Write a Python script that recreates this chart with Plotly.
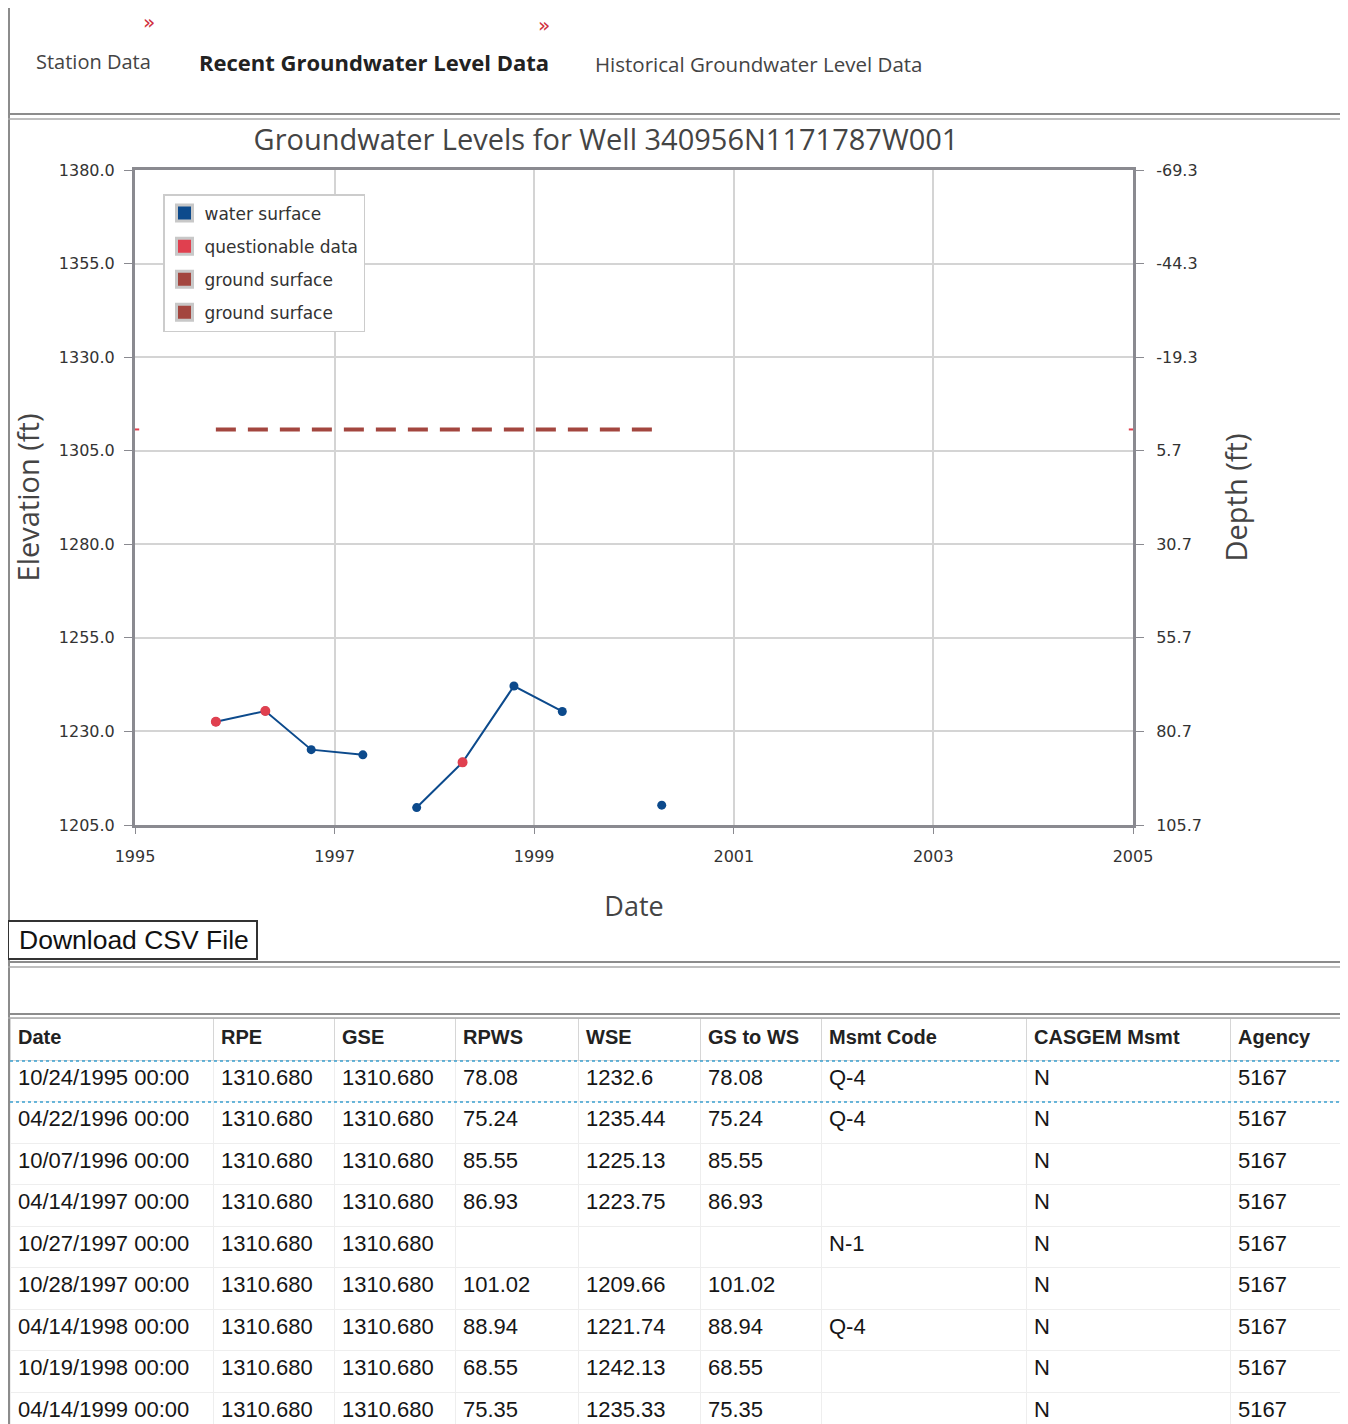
import plotly.graph_objects as go

# ---------------- data ----------------
table_dates = ["10/24/1995 00:00", "04/22/1996 00:00", "10/07/1996 00:00", "04/14/1997 00:00",
               "10/27/1997 00:00", "10/28/1997 00:00", "04/14/1998 00:00", "10/19/1998 00:00",
               "04/14/1999 00:00"]
iso_dates = ["1995-10-24", "1996-04-22", "1996-10-07", "1997-04-14", "1997-10-27",
             "1997-10-28", "1998-04-14", "1998-10-19", "1999-04-14"]
rpe = ["1310.680"] * 9
gse_txt = ["1310.680"] * 9
rpws = ["78.08", "75.24", "85.55", "86.93", "", "101.02", "88.94", "68.55", "75.35"]
wse = [1232.6, 1235.44, 1225.13, 1223.75, None, 1209.66, 1221.74, 1242.13, 1235.33]
wse_txt = ["1232.6", "1235.44", "1225.13", "1223.75", "", "1209.66", "1221.74", "1242.13", "1235.33"]
gs_to_ws = ["78.08", "75.24", "85.55", "86.93", "", "101.02", "88.94", "68.55", "75.35"]
msmt_code = ["Q-4", "Q-4", "", "", "N-1", "", "Q-4", "", ""]
casgem = ["N"] * 9
agency = ["5167"] * 9

# readings beyond the visible table rows
later_dates = ["1999-10-15", "2000-04-12"]
later_wse = [None, 1210.3]

gse_value = 1310.68
x_range = ["1995-01-01", "2005-01-01"]
elev_ticks = [1205.0, 1230.0, 1255.0, 1280.0, 1305.0, 1330.0, 1355.0, 1380.0]

# ---------------- derived ----------------
all_dates = iso_dates + later_dates
all_wse = wse + later_wse
q_dates = [d for d, c, v in zip(iso_dates, msmt_code, wse) if c.startswith("Q") and v is not None]
q_wse = [v for c, v in zip(msmt_code, wse) if c.startswith("Q") and v is not None]
depth = [gse_value - v if v is not None else None for v in all_wse]
gs_dates = [d for d, v in zip(all_dates, all_wse) if v is not None]
gs_vals = [gse_value] * len(gs_dates)
depth_ticks = [gse_value - t for t in elev_ticks]
depth_text = ["%.1f" % t for t in depth_ticks]

W, H = 1348, 1424
OFF = 8  # page body margin
def px(x): return (x - OFF) / W
def py(y): return 1 - (y - OFF) / H

BLUE = "#0c4a8c"
RED = "#e0404f"
BROWN = "#a3463f"
AX = "#8a8a90"

fig = go.Figure()

# ground surface dashed line
fig.add_trace(go.Scatter(x=gs_dates, y=gs_vals, mode="lines", showlegend=False,
                         line=dict(color=BROWN, width=4, dash="20px,12px"), hoverinfo="skip"))
# ground surface (second series) at plot edges
fig.add_trace(go.Scatter(x=x_range, y=[gse_value, gse_value], mode="markers", showlegend=False,
                         marker=dict(color=RED, size=6, symbol="line-ew", line=dict(color=RED, width=2)),
                         hoverinfo="skip"))
# water surface
fig.add_trace(go.Scatter(x=all_dates, y=all_wse, mode="lines+markers", showlegend=False,
                         line=dict(color=BLUE, width=2), marker=dict(color=BLUE, size=9),
                         connectgaps=False))
# questionable data
fig.add_trace(go.Scatter(x=q_dates, y=q_wse, mode="markers", showlegend=False,
                         marker=dict(color=RED, size=10)))
# depth (invisible, drives right axis)
fig.add_trace(go.Scatter(x=all_dates, y=depth, yaxis="y2", mode="markers", showlegend=False,
                         marker=dict(color="rgba(0,0,0,0)", size=1), hoverinfo="skip"))

# legend entries
for i, (name, col) in enumerate([("water surface", BLUE), ("questionable data", RED),
                                 ("ground surface", BROWN), ("ground surface", BROWN)]):
    fig.add_trace(go.Scatter(x=[None], y=[None], mode="markers", name=name, legendgroup="g%d" % i,
                             marker=dict(symbol="square", size=16, color=col,
                                         line=dict(color="#c8c8c8", width=3))))

# table
fig.add_trace(go.Table(
    domain=dict(x=[px(10), px(1342)], y=[0, py(1018)]),
    columnwidth=[203, 121, 121, 123, 122, 121, 205, 204, 112],
    header=dict(values=["<b>Date</b>", "<b>RPE</b>", "<b>GSE</b>", "<b>RPWS</b>", "<b>WSE</b>",
                        "<b>GS to WS</b>", "<b>Msmt Code</b>", "<b>CASGEM Msmt</b>", "<b>Agency</b>"],
                fill_color="white", line_color="#d6d6d6", align="left", height=42,
                font=dict(family="Liberation Sans, Arial", size=20, color="#222")),
    cells=dict(values=[table_dates, rpe, gse_txt, rpws, wse_txt, gs_to_ws, msmt_code, casgem, agency],
               fill_color="white", line_color="#eeeeee", align="left", height=41.5,
               font=dict(family="Liberation Sans, Arial", size=22, color="#161616")),
))

fig.update_layout(
    width=W, height=H, margin=dict(l=0, r=0, t=0, b=0, autoexpand=False),
    paper_bgcolor="white", plot_bgcolor="white",
    font=dict(family="DejaVu Sans", color="#333"),
    title=dict(text="Groundwater Levels for Well 340956N1171787W001", x=px(606), y=py(140),
               xanchor="center", yanchor="middle",
               font=dict(family="Open Sans", size=29, color="#444")),
    xaxis=dict(domain=[px(135), px(1133)], type="date", range=x_range, dtick="M24",
               tick0="1995-01-01", tickformat="%Y", showgrid=True, gridcolor="#d4d4d4", gridwidth=1.5,
               showline=True, linecolor=AX, linewidth=3, mirror=True, ticks="outside", ticklen=6,
               tickcolor=AX, tickfont=dict(size=16, color="#333"), ticklabelstandoff=9, automargin=False,
               title=dict(text="Date", standoff=32, font=dict(family="Open Sans", size=27, color="#444")),
               zeroline=False),
    yaxis=dict(domain=[py(825), py(170)], range=[1205, 1380], tickvals=elev_ticks, tickformat=".1f",
               showgrid=True, gridcolor="#d4d4d4", gridwidth=1.5, showline=True, linecolor=AX,
               linewidth=3, ticks="outside", ticklen=8, tickcolor=AX, tickfont=dict(size=16, color="#333"),
               ticklabelstandoff=6, automargin=False,
               title=dict(text="Elevation (ft)", standoff=22, font=dict(family="Open Sans", size=29, color="#444")),
               zeroline=False),
    yaxis2=dict(overlaying="y", side="right", range=[gse_value - 1205, gse_value - 1380],
                tickvals=depth_ticks, ticktext=depth_text, showgrid=False, showline=True, linecolor=AX,
                linewidth=3, ticks="outside", ticklen=8, tickcolor=AX, tickfont=dict(size=16, color="#333"),
                ticklabelstandoff=9, automargin=False,
                title=dict(text="Depth (ft)", standoff=26, font=dict(family="Open Sans", size=29, color="#444")),
                zeroline=False),
    legend=dict(x=px(163), y=py(194), xanchor="left", yanchor="top", bgcolor="white",
                bordercolor="#cccccc", borderwidth=1.5, font=dict(family="DejaVu Sans", size=17, color="#333"),
                itemsizing="trace", tracegroupgap=8),
    showlegend=True,
)

# page frame / tabs
line_c = "#8c8c8c"
shapes = [
    dict(type="line", xref="paper", yref="paper", x0=px(7), x1=px(1346), y0=py(6), y1=py(6), line=dict(color=line_c, width=1.5)),
    dict(type="line", xref="paper", yref="paper", x0=px(9), x1=px(9), y0=py(6), y1=0, line=dict(color=line_c, width=2)),
    dict(type="line", xref="paper", yref="paper", x0=px(1345), x1=px(1345), y0=py(6), y1=0, line=dict(color=line_c, width=1.5)),
    dict(type="line", xref="paper", yref="paper", x0=px(7), x1=px(1346), y0=py(114), y1=py(114), line=dict(color=line_c, width=2)),
    dict(type="line", xref="paper", yref="paper", x0=px(7), x1=px(1346), y0=py(119), y1=py(119), line=dict(color="#aaaaaa", width=1.5)),
    dict(type="line", xref="paper", yref="paper", x0=px(7), x1=px(1346), y0=py(962), y1=py(962), line=dict(color=line_c, width=2)),
    dict(type="line", xref="paper", yref="paper", x0=px(7), x1=px(1346), y0=py(967), y1=py(967), line=dict(color="#aaaaaa", width=1.5)),
    dict(type="line", xref="paper", yref="paper", x0=px(7), x1=px(1346), y0=py(1014), y1=py(1014), line=dict(color=line_c, width=2)),
    dict(type="line", xref="paper", yref="paper", x0=px(7), x1=px(1346), y0=py(1018), y1=py(1018), line=dict(color="#aaaaaa", width=1.5)),
    dict(type="rect", xref="paper", yref="paper", x0=px(8), x1=px(257), y0=py(921), y1=py(959), line=dict(color="#333", width=2), fillcolor="white"),
    dict(type="line", xref="paper", yref="paper", x0=px(10), x1=px(1342), y0=py(1061), y1=py(1061), line=dict(color="#3aa0d0", width=1.5, dash="dot")),
    dict(type="line", xref="paper", yref="paper", x0=px(10), x1=px(1342), y0=py(1102), y1=py(1102), line=dict(color="#3aa0d0", width=1.5, dash="dot")),
]
annotations = [
    dict(text="Station Data", x=px(34), y=py(62), xanchor="left", yanchor="middle",
         font=dict(family="Open Sans", size=20, color="#444")),
    dict(text="<b>Recent Groundwater Level Data</b>", x=px(197), y=py(62), xanchor="left", yanchor="middle",
         font=dict(family="Open Sans", size=22, color="#222")),
    dict(text="Historical Groundwater Level Data", x=px(593), y=py(64), xanchor="left", yanchor="middle",
         font=dict(family="Open Sans", size=20.5, color="#444")),
    dict(text="»", x=px(149), y=py(22), xanchor="center", yanchor="middle",
         font=dict(family="DejaVu Sans", size=20, color="#d03040")),
    dict(text="»", x=px(544), y=py(25), xanchor="center", yanchor="middle",
         font=dict(family="DejaVu Sans", size=20, color="#d03040")),
    dict(text="Download CSV File", x=px(17), y=py(940), xanchor="left", yanchor="middle",
         font=dict(family="Liberation Sans, Arial", size=26.5, color="#111")),
]
for a in annotations:
    a.update(xref="paper", yref="paper", showarrow=False)
fig.update_layout(shapes=shapes, annotations=annotations)

fig.write_html("out.html")
